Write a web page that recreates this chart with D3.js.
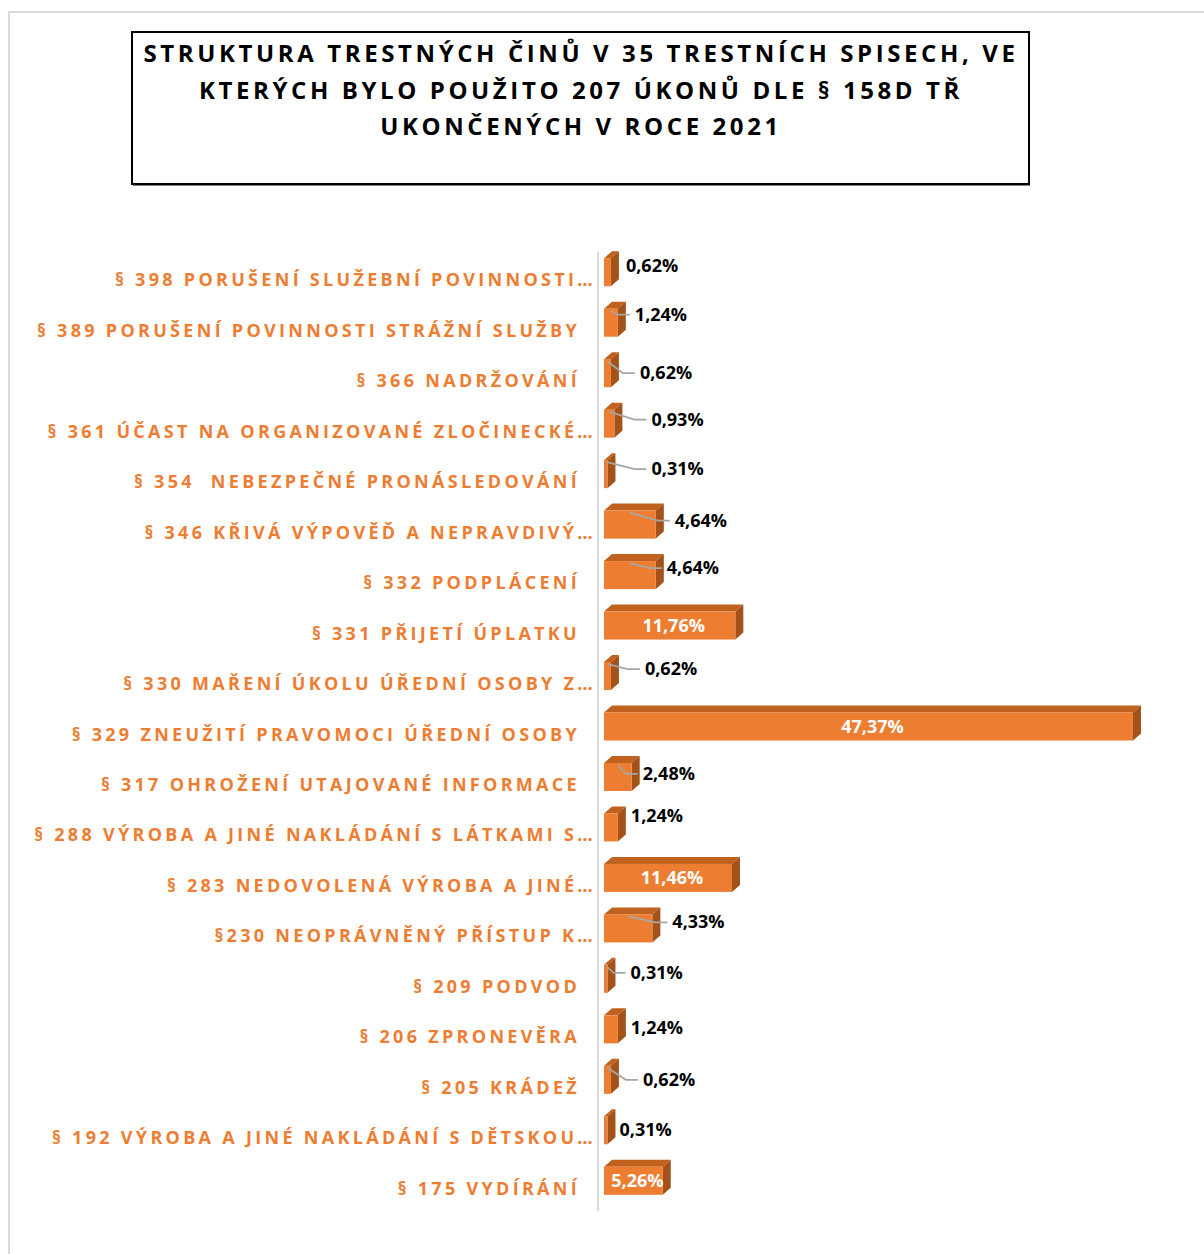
<!DOCTYPE html>
<html>
<head>
<meta charset="utf-8">
<script src="https://cdn.jsdelivr.net/npm/d3@7"></script>
<style>
  body { margin: 0; background: #fff; }
  svg { display: block; font-family: "Open Sans", "DejaVu Sans", sans-serif; }
</style>
</head>
<body>
<div id="chart"></div>
<script>
// Categories (top to bottom as shown)
const categories = [
    "§ 398 PORUŠENÍ SLUŽEBNÍ POVINNOSTI…",
    "§ 389 PORUŠENÍ POVINNOSTI STRÁŽNÍ SLUŽBY",
    "§ 366 NADRŽOVÁNÍ",
    "§ 361 ÚČAST NA ORGANIZOVANÉ ZLOČINECKÉ…",
    "§ 354  NEBEZPEČNÉ PRONÁSLEDOVÁNÍ",
    "§ 346 KŘIVÁ VÝPOVĚĎ A NEPRAVDIVÝ…",
    "§ 332 PODPLÁCENÍ",
    "§ 331 PŘIJETÍ ÚPLATKU",
    "§ 330 MAŘENÍ ÚKOLU ÚŘEDNÍ OSOBY Z…",
    "§ 329 ZNEUŽITÍ PRAVOMOCI ÚŘEDNÍ OSOBY",
    "§ 317 OHROŽENÍ UTAJOVANÉ INFORMACE",
    "§ 288 VÝROBA A JINÉ NAKLÁDÁNÍ S LÁTKAMI S…",
    "§ 283 NEDOVOLENÁ VÝROBA A JINÉ…",
    "§230 NEOPRÁVNĚNÝ PŘÍSTUP K…",
    "§ 209 PODVOD",
    "§ 206 ZPRONEVĚRA",
    "§ 205 KRÁDEŽ",
    "§ 192 VÝROBA A JINÉ NAKLÁDÁNÍ S DĚTSKOU…",
    "§ 175 VYDÍRÁNÍ"
];

// Share of offences (%)
const shares = [0.62, 1.24, 0.62, 0.93, 0.31, 4.64, 4.64, 11.76, 0.62, 47.37,
                2.48, 1.24, 11.46, 4.33, 0.31, 1.24, 0.62, 0.31, 5.26];

const titleLines = [
    "STRUKTURA TRESTNÝCH ČINŮ V 35 TRESTNÍCH SPISECH, VE",
    "KTERÝCH BYLO POUŽITO 207 ÚKONŮ DLE § 158D TŘ",
    "UKONČENÝCH V ROCE 2021"
];

const data = categories.map((c, i) => ({ name: c, value: shares[i] }));

// Layout
const width = 1204;
const height = 1254;
const plot = { left: 604, right: 1133, top: 247, bottom: 1206 };
const depthX = 8, depthY = 7;

const orange = "#ED7D31";
const topFace = "#C0621E";
const sideFace = "#A3521A";

// Label nudges from Excel's manual placement: [dx from bar tip, dy, leader]
const callouts = [
    [7, -6, false], [9, -8, true], [21, 0, true], [29, -4, true], [36, -5, true],
    [11, -4, true], [3, -7, true], null, [26, -7, true], null,
    [3, -3, true], [5, -11, false], null, [12, -6, true], [15, -6, true],
    [5, -1, false], [24, 0, true], [4, 0, false], null
];

const pct = d3.formatLocale({ decimal: ",", thousands: " ", grouping: [3], currency: ["", ""] });
const fmt = v => pct.format(".2f")(v) + "%";

const xScale = d3.scaleLinear()
    .domain([0, 47.37])
    .range([plot.left, plot.right]);

const yScale = d3.scaleBand()
    .domain(categories)
    .range([plot.top, plot.bottom])
    .paddingInner(0.445)
    .paddingOuter(0.2225);

const svg = d3.select("#chart")
    .append("svg")
    .attr("width", width)
    .attr("height", height);

// Outer chart frame (only top and left edges visible)
svg.append("path")
    .attr("d", `M9,${height} V12 H${width}`)
    .attr("fill", "none")
    .attr("stroke", "#D9D9D9")
    .attr("stroke-width", 2);

// Title box
svg.append("rect")
    .attr("x", 133).attr("y", 33)
    .attr("width", 897).attr("height", 153)
    .attr("fill", "#7f7f7f");
svg.append("rect")
    .attr("x", 132).attr("y", 32)
    .attr("width", 897).attr("height", 152)
    .attr("fill", "#fff")
    .attr("stroke", "#000")
    .attr("stroke-width", 2);

svg.append("g")
    .selectAll("text")
    .data(titleLines)
    .join("text")
    .attr("x", 581)
    .attr("y", (d, i) => 62 + i * 36.5)
    .attr("text-anchor", "middle")
    .attr("font-size", 24)
    .attr("font-weight", 700)
    .attr("letter-spacing", 3.6)
    .attr("fill", "#000")
    .text(d => d);

// Vertical axis line
svg.append("line")
    .attr("x1", 598).attr("x2", 598)
    .attr("y1", 252).attr("y2", 1211)
    .attr("stroke", "#D9D9D9")
    .attr("stroke-width", 2);

// Category labels
svg.append("g")
    .selectAll("text")
    .data(data)
    .join("text")
    .attr("x", d => d.name.endsWith("…") ? 596 : 580)
    .attr("y", d => yScale(d.name) + yScale.bandwidth() / 2 + 14)
    .attr("text-anchor", "end")
    .attr("font-size", 18)
    .attr("font-weight", 700)
    .attr("letter-spacing", 3.3)
    .attr("fill", orange)
    .style("white-space", "pre")
    .text(d => d.name);

// 3D bars
const bars = svg.append("g")
    .selectAll("g")
    .data(data)
    .join("g");

bars.append("path")
    .attr("fill", topFace)
    .attr("d", d => {
        const x0 = xScale(0), x1 = xScale(d.value), y0 = yScale(d.name);
        return `M${x0},${y0} L${x0 + depthX},${y0 - depthY} L${x1 + depthX},${y0 - depthY} L${x1},${y0} Z`;
    });

bars.append("path")
    .attr("fill", sideFace)
    .attr("d", d => {
        const x1 = xScale(d.value), y0 = yScale(d.name), y1 = y0 + yScale.bandwidth();
        return `M${x1},${y0} L${x1 + depthX},${y0 - depthY} L${x1 + depthX},${y1 - depthY} L${x1},${y1} Z`;
    });

bars.append("rect")
    .attr("x", xScale(0))
    .attr("y", d => yScale(d.name))
    .attr("width", d => xScale(d.value) - xScale(0))
    .attr("height", yScale.bandwidth())
    .attr("fill", orange);

// Data labels
data.forEach((d, i) => {
    const yc = yScale(d.name) + yScale.bandwidth() / 2;
    const c = callouts[i];
    if (!c) {
        // label inside bar, white
        svg.append("text")
            .attr("x", (xScale(0) + xScale(d.value) + depthX) / 2)
            .attr("y", yc + 6)
            .attr("text-anchor", "middle")
            .attr("font-size", 18)
            .attr("font-weight", 700)
            .attr("fill", "#fff")
            .text(fmt(d.value));
        return;
    }
    const tx = xScale(d.value) + depthX + c[0];
    const ty = yc + c[1];
    if (c[2]) {
        const w = xScale(d.value) - xScale(0);
        const sx = xScale(0) + Math.min(26, Math.max(3, w / 2));
        const sy = yc - 12;
        const ex = tx - 5;
        const mx = Math.max(sx + 3, ex - 12);
        svg.append("path")
            .attr("d", `M${sx},${sy} L${mx},${ty} L${ex},${ty}`)
            .attr("fill", "none")
            .attr("stroke", "#A6A6A6")
            .attr("stroke-width", 1.8);
    }
    svg.append("text")
        .attr("x", tx)
        .attr("y", ty + 6)
        .attr("font-size", 18)
        .attr("font-weight", 700)
        .attr("fill", "#000")
        .text(fmt(d.value));
});
</script>
</body>
</html>
